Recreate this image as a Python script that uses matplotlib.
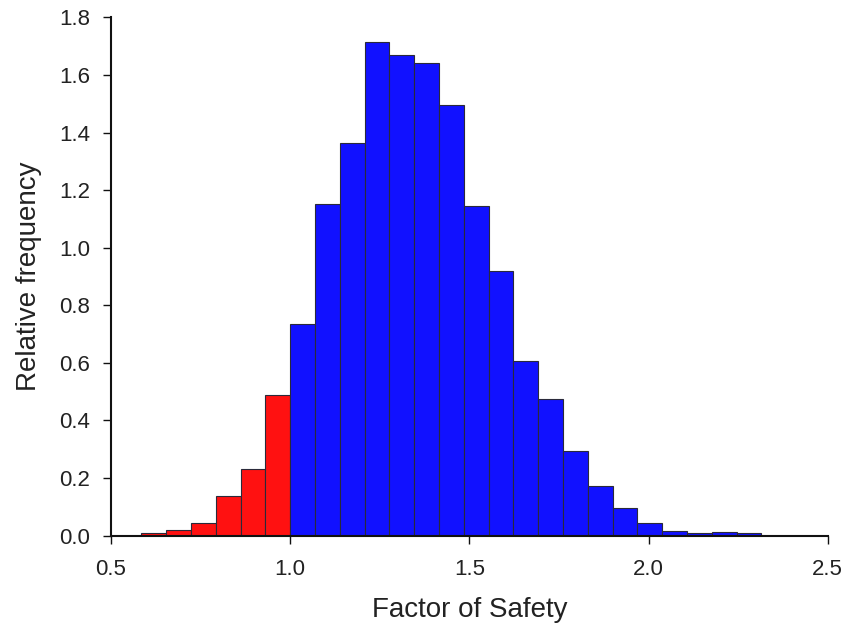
import matplotlib
matplotlib.use('Agg')
import matplotlib.pyplot as plt
import numpy as np

plt.rcParams['font.family'] = ['Liberation Sans', 'DejaVu Sans']

# histogram of factor of safety, bins of equal width, split at FoS = 1.0
bin_width = 0.0692
fs_split = 1.0
red_heights = [0.010, 0.019, 0.045, 0.138, 0.233, 0.489]
blue_heights = [0.736, 1.151, 1.365, 1.713, 1.668, 1.641, 1.497, 1.144,
                0.919, 0.607, 0.473, 0.295, 0.173, 0.096, 0.043, 0.017,
                0.008, 0.012, 0.008]
x_ticks = [0.5, 1.0, 1.5, 2.0, 2.5]
y_ticks = [0.0, 0.2, 0.4, 0.6, 0.8, 1.0, 1.2, 1.4, 1.6, 1.8]

red_left = fs_split - bin_width * np.arange(len(red_heights), 0, -1)
blue_left = fs_split + bin_width * np.arange(len(blue_heights))

fig = plt.figure(figsize=(8.46, 6.3), dpi=100)
ax = fig.add_axes([0.1312, 0.1497, 0.8472, 0.8228])

ax.bar(red_left, red_heights, width=bin_width, align='edge',
       color='#ff1111', edgecolor='#2a2a3a', linewidth=0.8)
ax.bar(blue_left, blue_heights, width=bin_width, align='edge',
       color='#1111ff', edgecolor='#2a2a3a', linewidth=0.8)

ax.set_xlim(0.5, 2.5)
ax.set_ylim(0, 1.8)
ax.set_xticks(x_ticks)
ax.set_yticks(y_ticks)
ax.set_xticklabels(['%.1f' % v for v in x_ticks])
ax.set_yticklabels(['%.1f' % v for v in y_ticks])

for s in ['top', 'right']:
    ax.spines[s].set_visible(False)
for s in ['left', 'bottom']:
    ax.spines[s].set_linewidth(1.5)
    ax.spines[s].set_color('#111111')

ax.tick_params(axis='both', direction='out', length=6, width=1.0,
               colors='#111111', labelsize=16, labelcolor='#222222')
ax.tick_params(axis='y', pad=9)
ax.tick_params(axis='x', pad=11)

ax.set_xlabel('Factor of Safety', fontsize=20, color='#222222', labelpad=12)
ax.set_ylabel('Relative frequency', fontsize=20, color='#222222', labelpad=12)

fig.savefig('out.png', dpi=100)
